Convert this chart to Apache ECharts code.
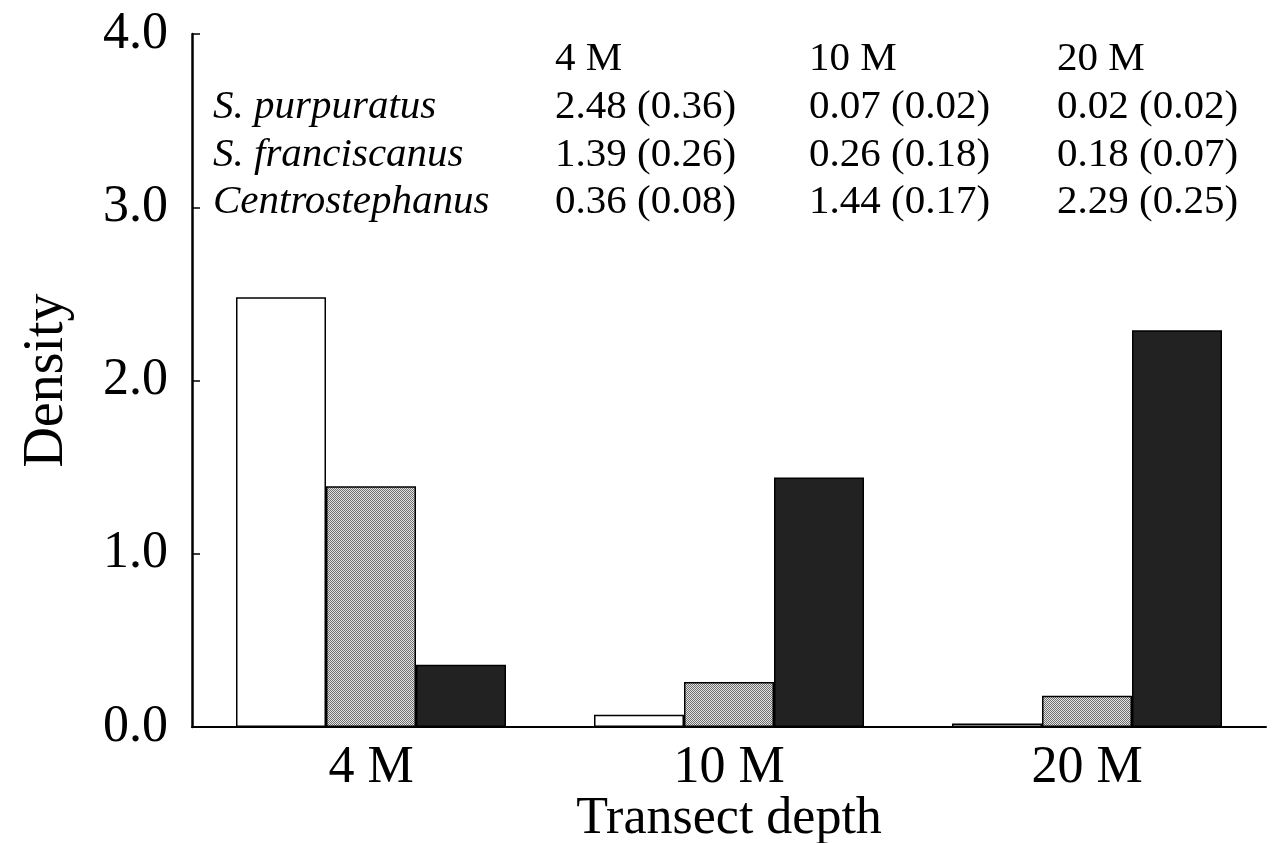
<!DOCTYPE html>
<html>
<head>
<meta charset="utf-8">
<script src="https://cdn.jsdelivr.net/npm/echarts@6/dist/echarts.min.js"></script>
<style>
html,body{margin:0;padding:0;background:#fff;}
#chart{width:1280px;height:843px;}
</style>
</head>
<body>
<div id="chart"></div>
<script>
// ---- data ----
const categories = ['4 M', '10 M', '20 M'];
const speciesNames = ['S. purpuratus', 'S. franciscanus', 'Centrostephanus'];
const purpuratus = [2.48, 0.07, 0.02];
const franciscanus = [1.39, 0.26, 0.18];
const centrostephanus = [0.36, 1.44, 2.29];
const purpuratusSE = [0.36, 0.02, 0.02];
const franciscanusSE = [0.26, 0.18, 0.07];
const centrostephanusSE = [0.08, 0.17, 0.25];
const yTicks = [0, 1, 2, 3, 4];

// ---- styling ----
const FONT = 'Liberation Serif';
function makePattern(c1, c2) {
  const cv = document.createElement('canvas');
  cv.width = 2; cv.height = 2;
  const ctx = cv.getContext('2d');
  ctx.fillStyle = c1; ctx.fillRect(0, 0, 2, 2);
  ctx.fillStyle = c2; ctx.fillRect(0, 0, 1, 1); ctx.fillRect(1, 1, 1, 1);
  return cv;
}
const grayFill = { image: makePattern('#e4e4e4', '#6e6e6e'), repeat: 'repeat' };

const means = [purpuratus, franciscanus, centrostephanus];
const ses = [purpuratusSE, franciscanusSE, centrostephanusSE];
const fills = ['#ffffff', grayFill, '#222222'];

// table text built from data
const colX = [555, 809, 1057];
const rowY = [59, 107, 155, 202];
const TFS = 41;
const graphics = [];
categories.forEach((c, j) => {
  graphics.push({ type: 'text', x: colX[j], y: rowY[0], silent: true,
    style: { text: c, font: TFS + 'px "' + FONT + '"', fill: '#000', align: 'left', verticalAlign: 'middle' } });
});
speciesNames.forEach((s, i) => {
  graphics.push({ type: 'text', x: 213, y: rowY[i + 1], silent: true,
    style: { text: s, font: 'italic ' + TFS + 'px "' + FONT + '"', fill: '#000', align: 'left', verticalAlign: 'middle' } });
  categories.forEach((c, j) => {
    graphics.push({ type: 'text', x: colX[j], y: rowY[i + 1], silent: true,
      style: { text: means[i][j].toFixed(2) + ' (' + ses[i][j].toFixed(2) + ')',
        font: TFS + 'px "' + FONT + '"', fill: '#000', align: 'left', verticalAlign: 'middle' } });
  });
});

const chart = echarts.init(document.getElementById('chart'), null, { renderer: 'canvas' });
chart.setOption({
  animation: false,
  backgroundColor: '#fff',
  grid: { left: 192, right: 14, top: 34, bottom: 116, containLabel: false, outerBoundsMode: 'none' },
  xAxis: {
    type: 'category',
    data: categories,
    axisLine: { lineStyle: { color: '#000', width: 2 } },
    axisTick: { show: false },
    axisLabel: { fontFamily: FONT, fontSize: 52, color: '#000', margin: 15 },
    name: 'Transect depth',
    nameLocation: 'middle',
    nameGap: 66,
    nameMoveOverlap: false,
    nameTextStyle: { fontFamily: FONT, fontSize: 52, color: '#000' }
  },
  yAxis: {
    type: 'value',
    min: yTicks[0],
    max: yTicks[yTicks.length - 1],
    interval: 1,
    axisLine: { show: true, lineStyle: { color: '#000', width: 2.5 } },
    axisTick: { show: true, inside: true, length: 8, lineStyle: { color: '#000', width: 1.5 } },
    splitLine: { show: false },
    axisLabel: { fontFamily: FONT, fontSize: 52, color: '#000', margin: 24, formatter: v => v.toFixed(1) },
    name: 'Density',
    nameLocation: 'middle',
    nameRotate: 90,
    nameGap: 117,
    nameTextStyle: { fontFamily: FONT, fontSize: 56, color: '#000' }
  },
  series: speciesNames.map((s, i) => ({
    name: s,
    type: 'bar',
    data: means[i],
    barWidth: 90,
    barGap: '0%',
    itemStyle: { color: fills[i], borderColor: '#000', borderWidth: 1.5 }
  })),
  graphic: graphics
});
</script>
</body>
</html>
